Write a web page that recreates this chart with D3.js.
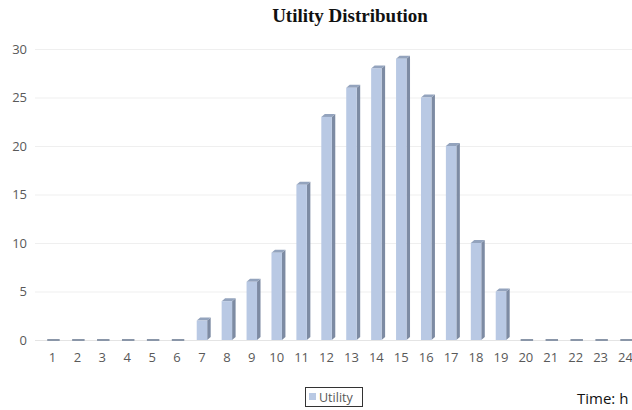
<!DOCTYPE html>
<html>
<head>
<meta charset="utf-8">
<script src="https://cdn.jsdelivr.net/npm/d3@7"></script>
<style>
  body { margin: 0; background: #fff; }
  .tick text { fill: #595959; font-family: "Open Sans", sans-serif; font-size: 13px; }
</style>
</head>
<body>
<div id="chart" style="width:632px;height:410px;"></div>
<script>
// hours and utility values
const hours = d3.range(1, 25).map(String);
const utility = [0, 0, 0, 0, 0, 0, 2, 4, 6, 9, 16, 23, 26, 28, 29, 25, 20, 10, 5, 0, 0, 0, 0, 0];
const yTicks = [0, 5, 10, 15, 20, 25, 30];

const width = 632, height = 410;
const margin = {top: 49, left: 40, right: -6, bottom: 70};

const svg = d3.select("#chart").append("svg")
    .attr("width", width)
    .attr("height", height);

const xScale = d3.scaleBand()
    .domain(hours)
    .range([margin.left, width - margin.right])
    .paddingInner(0.58)
    .paddingOuter(0.29);

const yScale = d3.scaleLinear()
    .domain([0, 30])
    .range([height - margin.bottom, margin.top]);

// gridlines
svg.append("g")
    .selectAll("line")
    .data(yTicks)
    .enter()
    .append("line")
        .attr("x1", 35)
        .attr("x2", width)
        .attr("y1", d => yScale(d) + 0.5)
        .attr("y2", d => yScale(d) + 0.5)
        .attr("stroke", d => d === 0 ? "#e4e4e4" : "#efefef");

// y axis labels
const yAxis = svg.append("g")
    .attr("transform", `translate(${margin.left},0)`)
    .call(d3.axisLeft(yScale).tickValues(yTicks).tickSize(0).tickPadding(13));
yAxis.select(".domain").remove();

// x axis labels
const xAxis = svg.append("g")
    .attr("transform", `translate(0,${yScale(0)})`)
    .call(d3.axisBottom(xScale).tickSize(0).tickPadding(13));
xAxis.select(".domain").remove();
xAxis.selectAll("text").attr("font-size", 13.5);

// bars (pseudo 3d)
const depth = 3.5, rise = 3;
const bw = xScale.bandwidth();
const bars = svg.append("g")
    .selectAll("g")
    .data(utility.map((v, i) => ({hour: hours[i], value: v})))
    .enter()
    .append("g");

bars.filter(d => d.value > 0).each(function(d) {
    const g = d3.select(this);
    const x0 = xScale(d.hour), y0 = yScale(d.value), yb = yScale(0);
    g.append("polygon")
        .attr("points", [[x0 + bw, y0], [x0 + bw + depth, y0 - rise], [x0 + bw + depth, yb - rise], [x0 + bw, yb]].join(" "))
        .attr("fill", "#7d8ba3");
    g.append("polygon")
        .attr("points", [[x0, y0], [x0 + depth, y0 - rise], [x0 + bw + depth, y0 - rise], [x0 + bw, y0]].join(" "))
        .attr("fill", "#93a3bd");
    g.append("rect")
        .attr("x", x0)
        .attr("y", y0)
        .attr("width", bw)
        .attr("height", yb - y0)
        .attr("fill", "#b9c9e4");
});

bars.filter(d => d.value === 0)
    .append("rect")
        .attr("x", d => xScale(d.hour))
        .attr("y", yScale(0) - 1)
        .attr("width", bw + 2)
        .attr("height", 2)
        .attr("fill", "#8a96a8");

// title
svg.append("text")
    .attr("x", 350)
    .attr("y", 22)
    .attr("text-anchor", "middle")
    .attr("font-family", "Liberation Serif, serif")
    .attr("font-weight", "bold")
    .attr("font-size", 19)
    .attr("fill", "#111")
    .text("Utility Distribution");

// legend
const legend = svg.append("g").attr("transform", "translate(305,387)");
legend.append("rect")
    .attr("x", 0.5).attr("y", 0.5)
    .attr("width", 57).attr("height", 19)
    .attr("fill", "#fff")
    .attr("stroke", "#333");
legend.append("rect")
    .attr("x", 4).attr("y", 6)
    .attr("width", 7).attr("height", 7)
    .attr("fill", "#b9c9e4");
legend.append("text")
    .attr("x", 14).attr("y", 15)
    .attr("font-family", "Open Sans, sans-serif")
    .attr("font-size", 12.5)
    .attr("fill", "#595959")
    .text("Utility");

svg.append("text")
    .attr("x", 577)
    .attr("y", 404)
    .attr("font-family", "Open Sans, sans-serif")
    .attr("font-size", 15)
    .attr("fill", "#111")
    .text("Time: h");
</script>
</body>
</html>
